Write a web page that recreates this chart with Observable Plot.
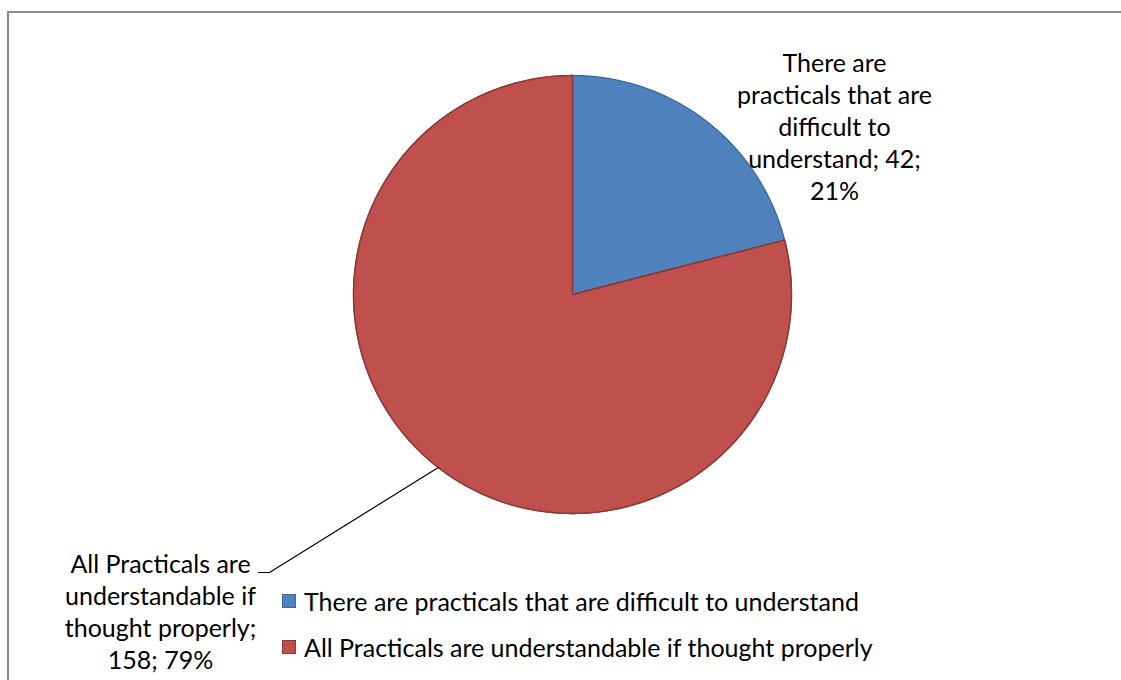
<!DOCTYPE html>
<html>
<head>
<meta charset="utf-8">
<script src="https://cdn.jsdelivr.net/npm/d3@7"></script>
<script src="https://cdn.jsdelivr.net/npm/@observablehq/plot@0.6"></script>
<style>
  html, body { margin: 0; padding: 0; background: #fff; }
  #wrap { position: relative; width: 1121px; height: 680px; overflow: hidden; font-family: Lato, "Open Sans", sans-serif; }
  #frame { position: absolute; left: 7px; top: 11px; width: 1200px; height: 800px; border-left: 2px solid #8a8a8a; border-top: 2px solid #8a8a8a; }
  #chart { position: absolute; left: 0; top: 0; }
  #legend { position: absolute; left: 282px; top: 586px; font-size: 25px; color: #000; }
  .row { display: flex; align-items: center; height: 30px; margin-bottom: 16px; white-space: nowrap; }
  .sw { width: 14px; height: 14px; margin-right: 8px; box-sizing: border-box; }
</style>
</head>
<body>
<div id="wrap">
  <div id="frame"></div>
  <div id="chart"></div>
  <div id="legend"></div>
</div>
<script>
// ---- data ----
const categories = [
  "There are practicals that are difficult to understand",
  "All Practicals are understandable if thought properly"
];
const counts = [42, 158];
const percents = ["21%", "79%"];
const labelLines = [
  ["There are", "practicals that are", "difficult to", "understand; 42;", "21%"],
  ["All Practicals are", "understandable if", "thought properly;", "158; 79%"]
];
const fillColors = ["#4F81BD", "#C0504D"];
const edgeColors = ["#3B689D", "#8C3A38"];

// ---- layout (pixels) ----
const W = 1121, H = 680;
const CX = 572, CY = 294, R = 219;
const px2x = p => (p - CX) / R;
const py2y = p => (CY - p) / R;

const arcs = d3.pie().sort(null).value(d => d)(counts);
function slicePoints(a) {
  const pts = [{x: 0, y: 0}];
  const n = Math.max(2, Math.ceil((a.endAngle - a.startAngle) / 0.005));
  for (let i = 0; i <= n; i++) {
    const t = a.startAngle + (a.endAngle - a.startAngle) * i / n;
    pts.push({x: Math.sin(t), y: Math.cos(t)});
  }
  pts.push({x: 0, y: 0});
  return pts;
}

const labelData = [
  {x: px2x(834), y: py2y(125), text: labelLines[0].join("\n")},
  {x: px2x(160), y: py2y(610), text: labelLines[1].join("\n")}
];

const mid = (arcs[1].startAngle + arcs[1].endAngle) / 2;
const leader = [
  {x: Math.sin(mid), y: Math.cos(mid)},
  {x: px2x(269), y: py2y(572)},
  {x: px2x(258), y: py2y(572)}
];

const marks = [];
arcs.forEach((a, i) => {
  marks.push(Plot.line(slicePoints(a), {
    x: "x", y: "y", fill: fillColors[i], stroke: edgeColors[i],
    strokeWidth: 1.3, strokeLinejoin: "miter", curve: "linear"
  }));
});
marks.push(Plot.line(slicePoints(arcs[1]), {
  x: "x", y: "y", stroke: edgeColors[1], strokeWidth: 1.3, fill: "none"
}));
marks.push(Plot.line(leader, {x: "x", y: "y", stroke: "#000", strokeWidth: 1.2}));
marks.push(Plot.text(labelData, {
  x: "x", y: "y", text: "text", fill: "#000",
  fontSize: 25, lineHeight: 1.28, textAnchor: "middle", lineAnchor: "middle"
}));

const chart = Plot.plot({
  width: W, height: H, margin: 0,
  x: {domain: [px2x(0), px2x(W)], axis: null},
  y: {domain: [py2y(H), py2y(0)], axis: null},
  style: {background: "transparent", fontFamily: "Lato, 'Open Sans', sans-serif", overflow: "visible"},
  marks
});
document.getElementById("chart").appendChild(chart);

const legend = document.getElementById("legend");
categories.forEach((c, i) => {
  const row = document.createElement("div");
  row.className = "row";
  const sw = document.createElement("div");
  sw.className = "sw";
  sw.style.background = fillColors[i];
  sw.style.border = "1px solid " + edgeColors[i];
  const t = document.createElement("span");
  t.textContent = c;
  row.appendChild(sw); row.appendChild(t);
  legend.appendChild(row);
});
</script>
</body>
</html>
